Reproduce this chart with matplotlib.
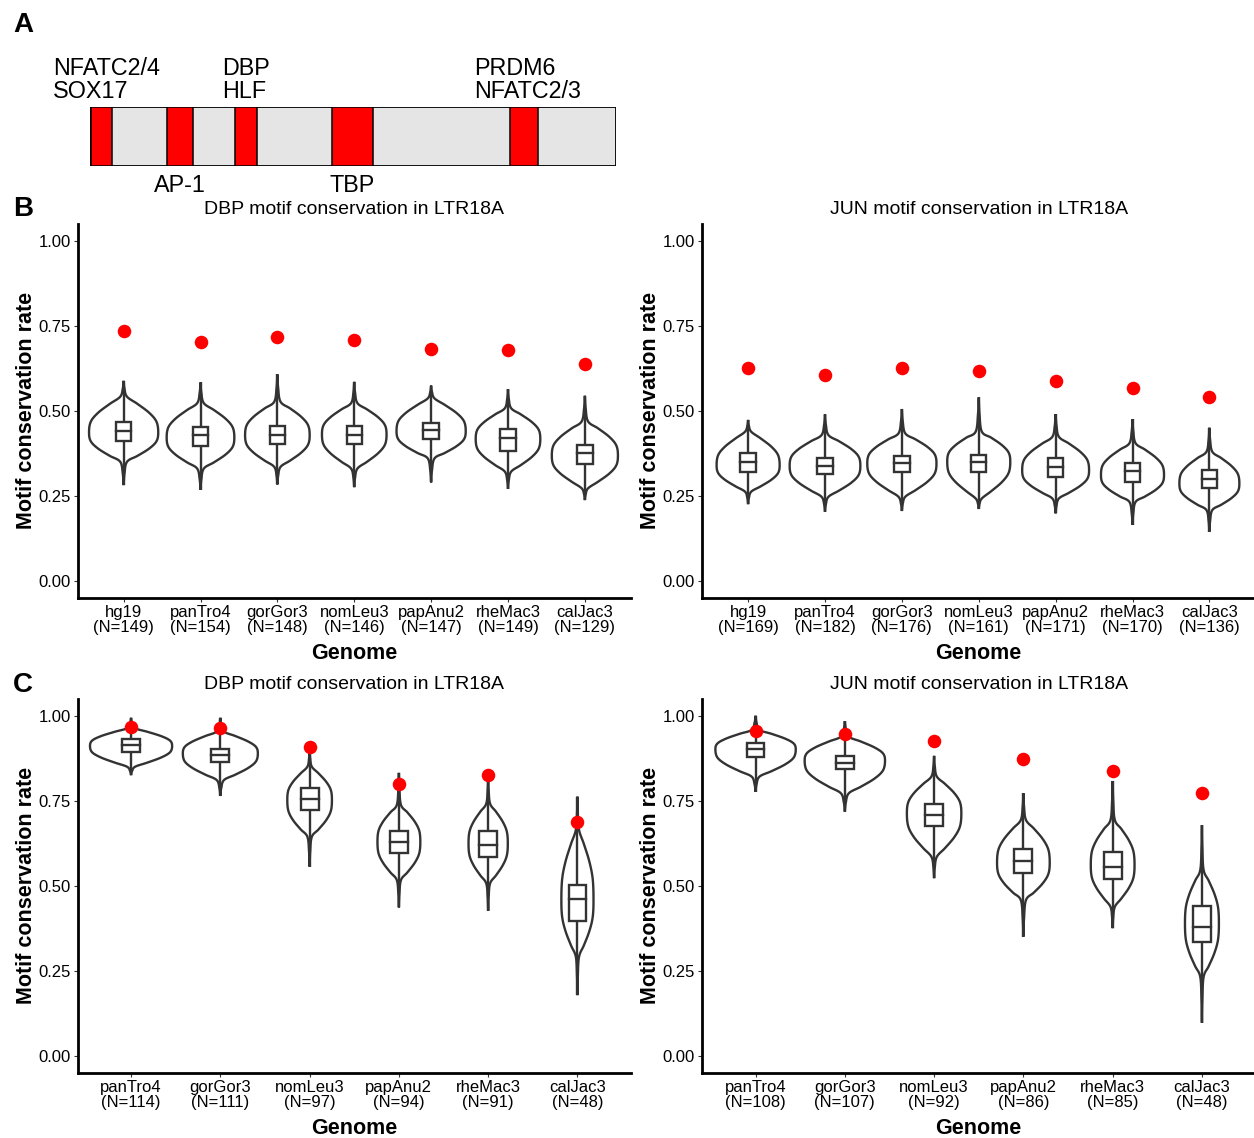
import numpy as np
import matplotlib
matplotlib.use('Agg')
import matplotlib.pyplot as plt
from matplotlib.patches import Rectangle

plt.rcParams['font.family'] = ['Liberation Sans', 'DejaVu Sans']

# ---------- panel A: LTR18A motif map (positions in % of element length) ----------
motif_start = [0.2, 14.7, 27.7, 46.0, 79.9]
motif_end = [4.2, 19.6, 31.8, 53.8, 85.3]
top_label_x = [-7.0, 25.1, 73.2]
top_labels = [('NFATC2/4', 'SOX17'), ('DBP', 'HLF'), ('PRDM6', 'NFATC2/3')]
bottom_labels = ['AP-1', 'TBP']
bottom_label_x = [17.2, 49.9]

# ---------- panel B: all genomes ----------
genomes_b = ['hg19', 'panTro4', 'gorGor3', 'nomLeu3', 'papAnu2', 'rheMac3', 'calJac3']
dbp_b_n = [149, 154, 148, 146, 147, 149, 129]
dbp_b_obs = [0.733, 0.703, 0.718, 0.707, 0.681, 0.679, 0.637]
dbp_b_box = [(0.411, 0.441, 0.466), (0.397, 0.428, 0.452), (0.401, 0.430, 0.456),
             (0.401, 0.430, 0.456), (0.416, 0.442, 0.465), (0.382, 0.421, 0.446),
             (0.342, 0.377, 0.399)]
# violin: (bottom tip, lower neck, peak, upper neck, top tip, half width)
dbp_b_violin = [(0.281, 0.350, 0.436, 0.541, 0.588, 0.45),
                (0.267, 0.330, 0.421, 0.522, 0.583, 0.44),
                (0.283, 0.335, 0.428, 0.526, 0.607, 0.42),
                (0.275, 0.330, 0.430, 0.522, 0.585, 0.42),
                (0.289, 0.360, 0.440, 0.536, 0.574, 0.45),
                (0.270, 0.321, 0.417, 0.507, 0.563, 0.42),
                (0.237, 0.272, 0.368, 0.468, 0.544, 0.43)]

jun_b_n = [169, 182, 176, 161, 171, 170, 136]
jun_b_obs = [0.625, 0.605, 0.627, 0.618, 0.587, 0.567, 0.539]
jun_b_box = [(0.321, 0.350, 0.376), (0.314, 0.338, 0.360), (0.321, 0.347, 0.368),
             (0.319, 0.348, 0.370), (0.306, 0.333, 0.360), (0.289, 0.323, 0.345),
             (0.274, 0.299, 0.325)]
jun_b_violin = [(0.225, 0.262, 0.340, 0.438, 0.473, 0.41),
                (0.203, 0.247, 0.338, 0.428, 0.489, 0.46),
                (0.205, 0.247, 0.345, 0.433, 0.505, 0.45),
                (0.211, 0.242, 0.350, 0.438, 0.539, 0.41),
                (0.198, 0.242, 0.325, 0.423, 0.490, 0.435),
                (0.164, 0.232, 0.311, 0.404, 0.475, 0.41),
                (0.144, 0.208, 0.286, 0.379, 0.450, 0.39)]

# ---------- panel C: non-human genomes ----------
genomes_c = ['panTro4', 'gorGor3', 'nomLeu3', 'papAnu2', 'rheMac3', 'calJac3']
dbp_c_n = [114, 111, 97, 94, 91, 48]
dbp_c_obs = [0.966, 0.965, 0.909, 0.798, 0.825, 0.688]
dbp_c_box = [(0.894, 0.914, 0.931), (0.865, 0.884, 0.902), (0.723, 0.755, 0.786),
             (0.597, 0.629, 0.662), (0.583, 0.620, 0.661), (0.397, 0.461, 0.502)]
dbp_c_violin = [(0.825, 0.850, 0.911, 0.963, 0.994, 0.46),
                (0.764, 0.811, 0.889, 0.953, 0.994, 0.42),
                (0.556, 0.644, 0.752, 0.850, 0.899, 0.25),
                (0.436, 0.517, 0.629, 0.737, 0.832, 0.24),
                (0.426, 0.507, 0.624, 0.741, 0.823, 0.22),
                (0.178, 0.291, 0.458, 0.664, 0.762, 0.18)]

jun_c_n = [108, 107, 92, 86, 85, 48]
jun_c_obs = [0.956, 0.945, 0.925, 0.874, 0.837, 0.772]
jun_c_box = [(0.879, 0.901, 0.919), (0.842, 0.862, 0.881), (0.675, 0.708, 0.740),
             (0.536, 0.573, 0.607), (0.519, 0.556, 0.600), (0.335, 0.379, 0.440)]
jun_c_violin = [(0.776, 0.821, 0.901, 0.958, 1.000, 0.45),
                (0.718, 0.772, 0.868, 0.938, 0.984, 0.45),
                (0.522, 0.585, 0.713, 0.821, 0.882, 0.305),
                (0.350, 0.458, 0.568, 0.693, 0.772, 0.295),
                (0.375, 0.438, 0.561, 0.693, 0.808, 0.245),
                (0.097, 0.232, 0.389, 0.546, 0.678, 0.19)]

# outline shape between peak and neck (relative half width)
PROFILE_T = [0.3, 0.55, 0.8, 1.0]
PROFILE_W = [0.95, 0.74, 0.40, 0.10]
TAIL_W = 0.025
EDGE = '#333333'

W, H = 1254, 1138
fig = plt.figure(figsize=(W / 100, H / 100), dpi=100)


def fx(px):
    return px / W


def fy(py):
    return 1 - py / H


def px_axes(x0, y0, x1, y1):
    return fig.add_axes([fx(x0), fy(y1), (x1 - x0) / W, (y1 - y0) / H])


def catmull(pts, n=14):
    # smooth curve through outline knots
    P = np.vstack([pts[0], pts, pts[-1]])
    out = []
    t = np.linspace(0, 1, n, endpoint=False)[:, None]
    for i in range(1, len(P) - 2):
        p0, p1, p2, p3 = P[i - 1], P[i], P[i + 1], P[i + 2]
        out.append(0.5 * (2 * p1 + (-p0 + p2) * t + (2 * p0 - 5 * p1 + 4 * p2 - p3) * t ** 2
                          + (-p0 + 3 * p1 - 3 * p2 + p3) * t ** 3))
    out.append(P[-2][None])
    return np.vstack(out)


def draw_violin(ax, x, v):
    tip_lo, neck_lo, peak, neck_hi, tip_hi, half = v
    knots = [(tip_lo, 0.0), ((tip_lo + neck_lo) / 2, TAIL_W)]
    for t, w in zip(PROFILE_T[::-1], PROFILE_W[::-1]):
        knots.append((peak - t * (peak - neck_lo), w))
    knots.append((peak, 1.0))
    for t, w in zip(PROFILE_T, PROFILE_W):
        knots.append((peak + t * (neck_hi - peak), w))
    knots += [((neck_hi + tip_hi) / 2, TAIL_W), (tip_hi, 0.0)]
    curve = catmull(np.array(knots))
    ys, ws = curve[:, 0], np.clip(curve[:, 1], 0, None) * half
    xs = np.concatenate([x + ws, (x - ws)[::-1]])
    yy = np.concatenate([ys, ys[::-1]])
    ax.fill(xs, yy, facecolor='white', edgecolor=EDGE, lw=1.7, zorder=2)
    return tip_lo, tip_hi


def violin_panel(ax, genomes, counts, obs, box, violins, title):
    n = len(genomes)
    for i in range(n):
        x = i + 1
        lo, hi = draw_violin(ax, x, violins[i])
        q1, med, q3 = box[i]
        ax.plot([x, x], [lo, q1], color=EDGE, lw=1.7, zorder=3, solid_capstyle='butt')
        ax.plot([x, x], [q3, hi], color=EDGE, lw=1.7, zorder=3, solid_capstyle='butt')
        ax.add_patch(Rectangle((x - 0.1, q1), 0.2, q3 - q1, facecolor='white',
                               edgecolor=EDGE, lw=1.7, zorder=4))
        ax.plot([x - 0.1, x + 0.1], [med, med], color=EDGE, lw=1.7, zorder=4)
    ax.scatter(np.arange(1, n + 1), obs, s=95, color='red', linewidths=0, zorder=5)

    ax.set_xlim(0.4, n + 0.6)
    ax.set_ylim(-0.05, 1.05)
    ax.set_xticks(np.arange(1, n + 1))
    ax.set_xticklabels([f'{g}\n(N={c})' for g, c in zip(genomes, counts)],
                       fontsize=12, linespacing=1.0)
    ax.set_yticks([0, 0.25, 0.5, 0.75, 1.0])
    ax.set_yticklabels(['0.00', '0.25', '0.50', '0.75', '1.00'], fontsize=12)
    ax.tick_params(length=3, width=0.8, color=EDGE, pad=2)
    for s in ['top', 'right']:
        ax.spines[s].set_visible(False)
    for s in ['left', 'bottom']:
        ax.spines[s].set_linewidth(2.0)
    ax.set_title(title, fontsize=14, pad=7)
    ax.set_xlabel('Genome', fontsize=15.5, fontweight='bold', labelpad=6)
    ax.set_ylabel('Motif conservation rate', fontsize=15.5, fontweight='bold', labelpad=1)


# ---------- panel A ----------
axA = px_axes(89.8, 107, 615.5, 166)
axA.set_xlim(0, 100)
axA.set_ylim(0, 1)
axA.axis('off')
axA.add_patch(Rectangle((0, 0), 100, 1, facecolor='#e5e5e5', edgecolor='black', lw=1.3, zorder=1))
for s, e in zip(motif_start, motif_end):
    axA.add_patch(Rectangle((s, 0), e - s, 1, facecolor='#ff0000', edgecolor='black', lw=1.1, zorder=2))
for x, (l1, l2) in zip(top_label_x, top_labels):
    axA.text(x, 1 + 32 / 59, l1, fontsize=16.8, ha='left', va='baseline')
    axA.text(x, 1 + 8.7 / 59, l2, fontsize=16.8, ha='left', va='baseline')
for x, lab in zip(bottom_label_x, bottom_labels):
    axA.text(x, -25.7 / 59, lab, fontsize=16.8, ha='center', va='baseline')

# ---------- panels B and C ----------
axBl = px_axes(77.5, 223.7, 631, 597.7)
violin_panel(axBl, genomes_b, dbp_b_n, dbp_b_obs, dbp_b_box, dbp_b_violin,
             'DBP motif conservation in LTR18A')
axBr = px_axes(702, 223.7, 1255.5, 597.7)
violin_panel(axBr, genomes_b, jun_b_n, jun_b_obs, jun_b_box, jun_b_violin,
             'JUN motif conservation in LTR18A')
axCl = px_axes(77.5, 698.7, 631, 1072.7)
violin_panel(axCl, genomes_c, dbp_c_n, dbp_c_obs, dbp_c_box, dbp_c_violin,
             'DBP motif conservation in LTR18A')
axCr = px_axes(702, 698.7, 1255.5, 1072.7)
violin_panel(axCr, genomes_c, jun_c_n, jun_c_obs, jun_c_box, jun_c_violin,
             'JUN motif conservation in LTR18A')

# panel letters
for lab, y in [('A', 32.5), ('B', 216), ('C', 692)]:
    fig.text(fx(13), fy(y), lab, fontsize=20, fontweight='bold', ha='left', va='baseline')

fig.savefig('out.png', dpi=100)
